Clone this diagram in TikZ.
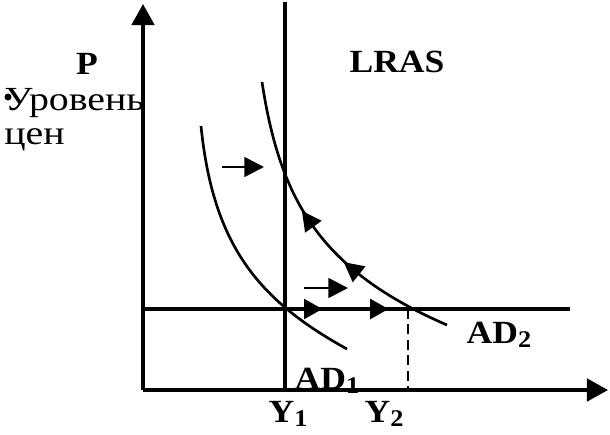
\documentclass[tikz,border=0pt]{standalone}
\usepackage{fontspec}
\setmainfont{Liberation Serif}
\usetikzlibrary{arrows.meta,decorations.markings}

\tikzset{
  axis/.style={line width=2.4pt, -{Triangle[length=15pt,width=16pt]}},
  curve/.style={line width=1.9pt},
  shiftarrow/.style={line width=1.9pt, -{Triangle[length=14pt,width=14pt]}},
  lbl/.style={font=\fontsize{23}{25}\selectfont\bfseries, inner sep=0pt, xscale=1.1},
  rulbl/.style={font=\fontsize{24}{26}\selectfont, inner sep=0pt, anchor=west, xscale=1.18}
}
\newcommand{\subidx}[1]{\raisebox{-0.25ex}{\fontsize{17}{18}\selectfont\bfseries #1}}

\begin{document}
\begin{tikzpicture}[x=0.025cm, y=-0.025cm]
  \useasboundingbox (0,0) rectangle (610,434);
  % axes
  \coordinate (O) at (143,390);
  \coordinate (ytop) at (143,4);
  \coordinate (xend) at (608,390);
  \draw[axis] (O) -- (ytop);
  \draw[axis] (O) -- (xend);
  % LRAS and price level
  \coordinate (lrasTop) at (285,2);
  \coordinate (Y1) at (285,390);
  \coordinate (pL) at (143,309);
  \coordinate (pR) at (570,309);
  \coordinate (E2) at (408,309);
  \coordinate (Y2) at (408,390);
  \draw[line width=2.3pt] (lrasTop) -- (Y1);
  \draw[line width=2.3pt, postaction={decorate}, decoration={markings,
      mark=at position 0.42 with {\arrow{Triangle[length=13pt,width=14pt]}},
      mark=at position 0.575 with {\arrow{Triangle[length=13pt,width=14pt]}}}] (pL) -- (pR);
  \draw[line width=1.8pt, dash pattern=on 7pt off 4pt] (E2) -- (Y2);
  % AD curves
  \coordinate (ad1a) at (201,126);
  \coordinate (ad1b) at (347,349);
  \coordinate (ad2a) at (262,82);
  \coordinate (ad2b) at (447,325);
  \draw[curve] (ad1a) .. controls (213,245) and (258,300) .. (ad1b);
  \draw[curve, postaction={decorate}, decoration={markings,
      mark=at position 0.48 with {\arrow{Triangle[reversed,length=14pt,width=14pt]}},
      mark=at position 0.685 with {\arrow{Triangle[reversed,length=14pt,width=14pt]}}}]
    (ad2a) .. controls (280,200) and (320,270) .. (ad2b);
  % shift arrows
  \coordinate (s1a) at (222,167);
  \coordinate (s1b) at (264,167);
  \coordinate (s2a) at (304,288);
  \coordinate (s2b) at (348,288);
  \draw[shiftarrow] (s1a) -- (s1b);
  \draw[shiftarrow] (s2a) -- (s2b);
  % labels
  \node[lbl] (P) at (87,64) {P};
  \fill (8,97) circle (3.5);
  \node[rulbl] (lev1) at (4,103) {Уровень};
  \node[rulbl] (lev2) at (4,140) {цен};
  \node[lbl] (lras) at (397,62) {LRAS};
  \node[lbl] (ad2) at (499,335) {AD\subidx{2}};
  \node[lbl] (ad1) at (327,381) {AD\subidx{1}};
  \node[lbl] (y1) at (288,414) {Y\subidx{1}};
  \node[lbl] (y2) at (384,414) {Y\subidx{2}};
\end{tikzpicture}
\end{document}
